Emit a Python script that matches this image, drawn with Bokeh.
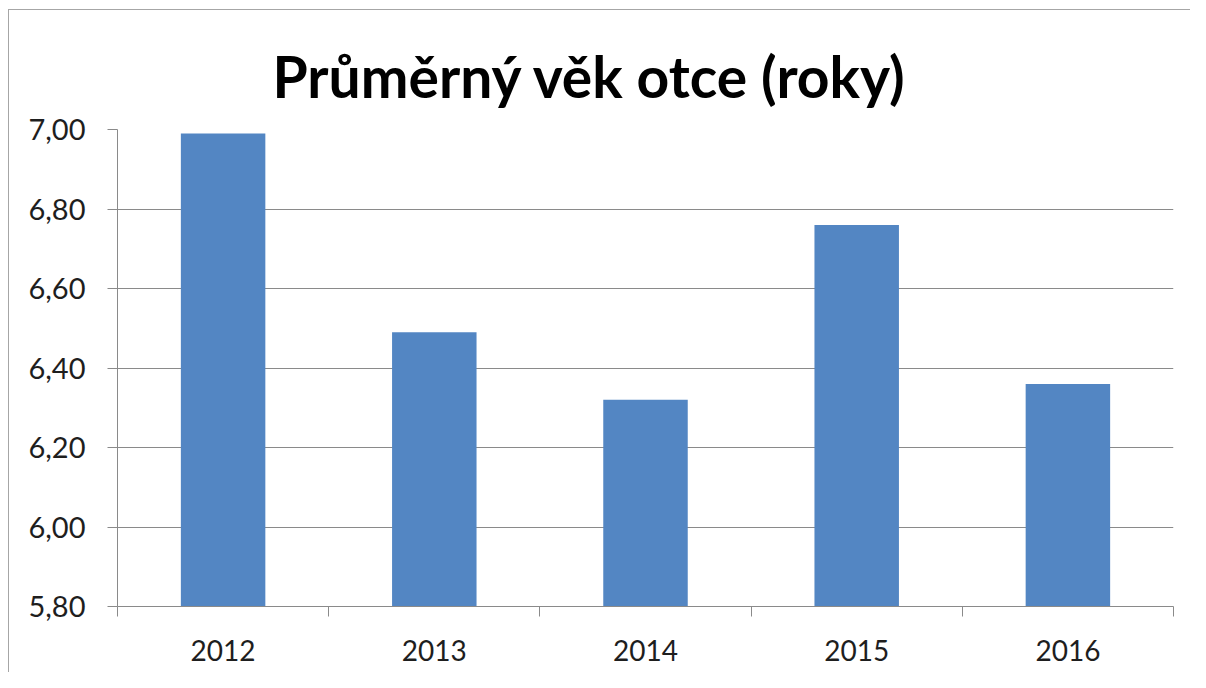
from bokeh.plotting import figure
from bokeh.models import Range1d, FixedTicker, CustomJSTickFormatter
from bokeh.embed import file_html
from bokeh.resources import INLINE

# ---- data ----
years = ["2012", "2013", "2014", "2015", "2016"]
values = [6.99, 6.49, 6.32, 6.76, 6.36]
y_ticks = [5.80, 6.00, 6.20, 6.40, 6.60, 6.80, 7.00]
title_text = "Průměrný věk otce (roky)"

centers = [i + 0.5 for i in range(len(years))]
bounds = [float(i) for i in range(len(years) + 1)]

GRID = "#8a8a8a"
BAR = "#5386C3"
TXT = "#1e1e1e"
FRAME = "#a6a6a6"

p = figure(width=1190, height=672, output_backend="svg", toolbar_location=None,
           x_range=Range1d(0, len(years)), y_range=Range1d(y_ticks[0], y_ticks[-1]),
           min_border_left=117, min_border_right=17, min_border_top=129,
           min_border_bottom=66)
p.outline_line_color = None
p.background_fill_color = "white"
p.border_fill_color = None
p.styles = {
    "background": (f"linear-gradient({FRAME},{FRAME}) 8px 9px / 100% 1px no-repeat, "
                   f"linear-gradient({FRAME},{FRAME}) 8px 9px / 1px 100% no-repeat, white"),
}

p.vbar(x=centers, top=values, bottom=y_ticks[0], width=0.4,
       fill_color=BAR, line_color=None)

# x axis
xa = p.xaxis[0]
xa.ticker = FixedTicker(ticks=centers, minor_ticks=bounds)
xa.major_label_overrides = {c: y for c, y in zip(centers, years)}
xa.major_tick_out = 0
xa.major_tick_in = 0
xa.minor_tick_out = 10
xa.minor_tick_in = 0
xa.minor_tick_line_color = GRID
xa.axis_line_color = GRID
xa.major_label_text_font = "Lato"
xa.major_label_text_font_size = "28px"
xa.major_label_text_color = TXT
xa.major_label_standoff = 23

# y axis
ya = p.yaxis[0]
ya.ticker = FixedTicker(ticks=y_ticks)
ya.formatter = CustomJSTickFormatter(code="return tick.toFixed(2).replace('.', ',');")
ya.major_tick_out = 10
ya.major_tick_in = 0
ya.minor_tick_line_color = None
ya.major_tick_line_color = GRID
ya.axis_line_color = GRID
ya.major_label_text_font = "Lato"
ya.major_label_text_font_size = "29px"
ya.major_label_text_color = TXT
ya.major_label_standoff = 22

p.xgrid.visible = False
p.ygrid.ticker = ya.ticker
p.ygrid.grid_line_color = GRID

p.title.text = title_text
p.title.text_font = "Lato"
p.title.text_font_style = "bold"
p.title.text_font_size = "57px"
p.title.text_color = "black"
p.title.align = "left"
p.title.offset = 155
p.title.standoff = 40

open("out.html", "w").write(file_html(p, INLINE))
